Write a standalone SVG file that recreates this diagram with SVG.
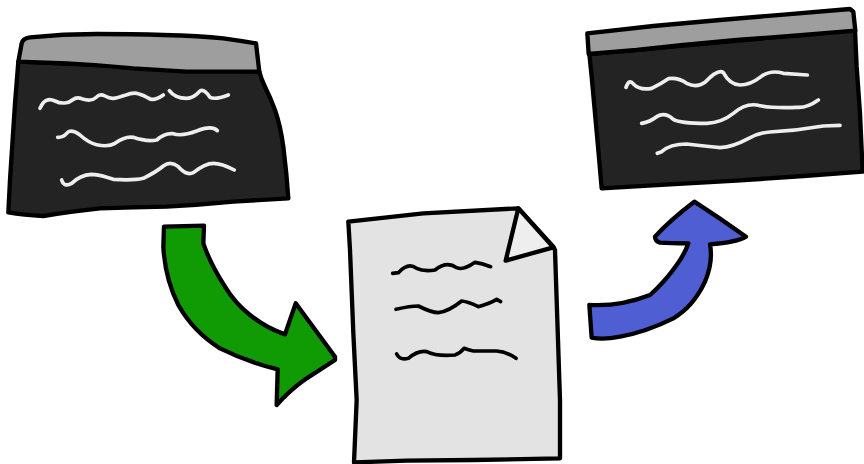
<svg xmlns="http://www.w3.org/2000/svg" width="864" height="464" viewBox="0 0 864 464">
<style>
.o{stroke:#000;stroke-width:13;stroke-linejoin:round;stroke-linecap:round}
.w{fill:none;stroke:#eee;stroke-width:11;stroke-linejoin:round;stroke-linecap:round}
.k{fill:none;stroke:#000;stroke-width:11;stroke-linejoin:round;stroke-linecap:round}
.d{fill:#232323}
.g{fill:#9e9e9e}
</style>
<rect width="864" height="464" fill="#fff"/>
<g id="connectors">
<g id="arrow-green" transform="translate(150,215) scale(.33333)">
<path class="o" fill="#109a04" d="M42 35L162 32L160 85Q180 145 225 215Q255 265 300 300Q350 340 405 358L437 265L555 425L555 435L470 490Q420 525 380 570L383 463Q290 440 210 400Q130 350 85 270Q45 190 40 95Z"/>
</g>
<g id="arrow-blue" transform="translate(580,195) scale(.33333)">
<path class="o" fill="#4f5fd3" d="M28 330Q120 335 210 300Q255 260 290 210Q315 175 325 145Q270 145 240 143Q225 138 225 125Q270 75 343 20Q420 70 498 125Q470 142 390 148Q400 200 375 260Q340 335 280 370Q200 410 120 425Q70 435 35 428Z"/>
</g>
</g>
<g id="window-left" transform="translate(0,20) scale(.33333)">
<path class="o d" d="M55 125L45 250L30 480L25 577Q70 585 130 588Q210 575 300 565Q400 562 500 560Q600 555 700 545Q780 540 865 535Q860 460 850 380Q842 320 825 270Q810 230 795 200Q783 175 778 155Z"/>
<path class="o g" d="M65 70Q68 55 90 52Q190 42 290 42Q400 42 490 45Q600 48 670 55Q720 62 768 70L778 155L560 155Q480 150 400 145Q300 135 200 130L55 125Z"/>
<path class="w" d="M120 265Q130 243 140 241Q150 236 165 243Q180 250 192 249Q205 250 217 240Q230 230 245 236Q260 241 270 240Q280 240 290 231Q300 220 315 228Q330 236 340 235Q350 235 375 226Q400 216 415 221Q430 225 445 234Q460 246 490 225"/>
<path class="w" d="M508 212Q525 235 560 235Q580 235 600 213Q612 205 630 232Q645 240 685 225"/>
<path class="w" d="M173 352Q190 352 200 340Q212 325 240 345Q265 368 290 374Q325 382 345 370Q375 348 400 352Q440 366 470 360Q495 338 520 341Q545 350 590 333Q635 315 652 332"/>
<path class="w" d="M185 480Q192 503 215 490Q240 465 275 463Q305 465 340 478Q400 482 430 475Q470 455 490 438Q512 422 535 440Q560 468 580 458Q615 430 640 430Q665 430 703 450"/>
</g>
<g id="window-right" transform="translate(570,0) scale(.33333)">
<path class="o d" d="M58 162L65 230L85 450L95 565L300 553L500 542L700 528L878 515L870 340L860 200L855 90Z"/>
<path class="o g" d="M52 100L250 78L450 60L650 43L840 27L850 35L856 92L700 105L500 120L340 135L200 150L56 162Z"/>
<path class="w" d="M168 262Q178 235 190 252Q210 272 245 265Q275 250 295 236Q325 232 350 250Q380 265 405 247Q445 205 460 218Q480 255 510 255Q540 255 570 232Q600 208 640 220L712 225"/>
<path class="w" d="M215 370Q240 365 260 350Q285 335 310 358Q330 370 410 370Q455 368 490 340Q525 310 560 315Q600 325 680 322Q710 325 745 300"/>
<path class="w" d="M262 460L275 455Q300 432 350 432Q420 440 450 443Q490 440 530 418Q565 398 600 396Q680 392 760 378L810 376"/>
</g>
<g id="document" transform="translate(340,200) scale(.33333)">
<path class="o" fill="#e3e3e3" d="M25 65L250 40L535 25L640 140L645 150L650 300L660 600L660 775L400 780L200 782L42 787L50 600L40 400L30 150Z"/>
<path class="o" fill="#eee" d="M535 25L497 182L640 142Z"/>
<path class="k" d="M158 220L175 218Q205 185 230 205Q250 215 285 210Q320 182 350 203Q370 212 405 187Q425 190 452 200"/>
<path class="k" d="M168 328Q210 318 235 318Q275 338 295 338Q325 335 365 303Q385 305 415 320Q450 310 470 298L482 305"/>
<path class="k" d="M170 462Q180 482 205 475Q235 450 260 455Q290 470 345 465Q360 460 372 445Q385 450 400 453L470 453Q500 455 528 475"/>
</g>
</svg>
